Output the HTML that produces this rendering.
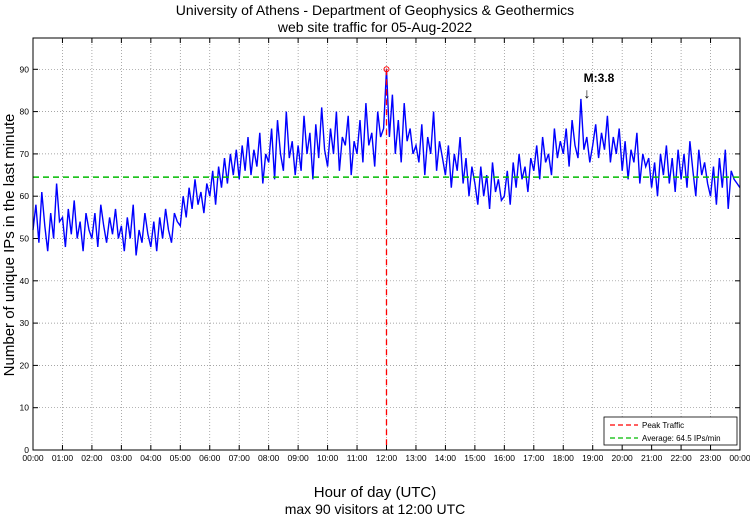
<!DOCTYPE html>
<html><head><meta charset="utf-8"><style>
body{margin:0;background:#fff;}
svg{display:block;font-family:"Liberation Sans",sans-serif;}
</style></head><body>
<svg id="chart" width="750" height="515">
<text x="375" y="15" text-anchor="middle" font-size="14">University of Athens - Department of Geophysics &amp; Geothermics</text>
<text x="375" y="32" text-anchor="middle" font-size="14">web site traffic for 05-Aug-2022</text>
<g id="grid"></g>
<g id="series"></g>
<rect x="33" y="38" width="707" height="412" fill="none" stroke="#000" stroke-width="1"/>
<g id="ticks"></g>
<text x="375" y="497" text-anchor="middle" font-size="15">Hour of day (UTC)</text>
<text x="375" y="514" text-anchor="middle" font-size="14">max 90 visitors at 12:00 UTC</text>
<text transform="translate(14,245) rotate(-90)" text-anchor="middle" font-size="15">Number of unique IPs in the last minute</text>
<text x="599" y="82" text-anchor="middle" font-size="12" font-weight="bold">M:3.8</text>
<text x="587" y="98" text-anchor="middle" font-size="14">↓</text>
<g>
<rect x="604" y="417" width="133" height="28" fill="#fff" stroke="#000" stroke-width="0.8"/>
<line x1="610" y1="425" x2="638" y2="425" stroke="#f00" stroke-width="1.2" stroke-dasharray="5,3"/>
<text x="642" y="428" font-size="8">Peak Traffic</text>
<line x1="610" y1="438" x2="638" y2="438" stroke="#0b0" stroke-width="1.2" stroke-dasharray="5,3"/>
<text x="642" y="441" font-size="8">Average: 64.5 IPs/min</text>
</g>
</svg>
<script>
const hourLabels=["00:00","01:00","02:00","03:00","04:00","05:00","06:00","07:00","08:00","09:00","10:00","11:00","12:00","13:00","14:00","15:00","16:00","17:00","18:00","19:00","20:00","21:00","22:00","23:00","00:00"];
const yTicks=[0,10,20,30,40,50,60,70,80,90];
const visitors=[
52,58,49,61,53,47,56,50,63,54,
55,48,57,51,59,50,54,47,56,52,
50,56,48,58,53,49,55,51,57,50,
53,47,55,50,58,46,52,49,56,51,
48,54,47,55,50,57,52,49,56,54,
53,60,55,62,57,64,58,61,56,63,
60,66,58,67,62,69,63,70,65,71,
64,72,66,74,65,71,67,75,63,70,
68,76,64,78,70,66,80,69,73,65,
72,66,79,70,75,64,77,69,81,71,
67,76,70,80,66,74,72,79,65,73,
70,78,68,82,72,75,67,80,74,76,
90,74,84,70,78,68,82,73,76,70,
72,68,77,65,74,70,80,66,73,69,
65,72,62,70,66,74,63,69,60,67,
63,58,67,60,65,57,68,61,64,59,
60,66,58,68,62,70,64,67,61,69,
66,72,64,74,68,70,65,76,69,73,
70,76,67,78,72,69,83,71,74,68,
72,77,69,75,71,79,68,74,70,76,
66,73,64,71,68,75,63,70,67,69,
62,68,60,70,65,72,63,69,61,71,
64,70,62,73,66,60,71,65,68,63,
60,67,58,69,62,71,57,66,64,63,62];
const average=[64.5];
const peakHour=[12];
const peakValue=[90];

const NS="http://www.w3.org/2000/svg";
const L=33,R=740,T=38,B=450,YMAX=97.4;
const xs=h=>L+(R-L)*h/24;
const ys=v=>B-(B-T)*v/YMAX;
function mk(tag,attrs,parent){const e=document.createElementNS(NS,tag);for(const k in attrs)e.setAttribute(k,attrs[k]);parent.appendChild(e);return e;}
const grid=document.getElementById('grid'),ticks=document.getElementById('ticks'),series=document.getElementById('series');
hourLabels.forEach((lab,i)=>{
  const x=xs(i);
  if(i>0&&i<24){const g=mk('line',{x1:x,x2:x,y1:T,y2:B,stroke:'#888','stroke-width':0.7,'stroke-dasharray':'1,2'},grid);
  
  }
  mk('line',{x1:x,x2:x,y1:B,y2:B-5,stroke:'#000'},ticks);
  mk('line',{x1:x,x2:x,y1:T,y2:T+5,stroke:'#000'},ticks);
  const t=mk('text',{x:x,y:461,'text-anchor':'middle','font-size':8.5},ticks);t.textContent=lab;
  
  
});
yTicks.forEach(v=>{
  const y=ys(v);
  if(v>0){const g=mk('line',{x1:L,x2:R,y1:y,y2:y,stroke:'#888','stroke-width':0.7,'stroke-dasharray':'1,2'},grid);
  
  }
  mk('line',{x1:L,x2:L+5,y1:y,y2:y,stroke:'#000'},ticks);
  mk('line',{x1:R,x2:R-5,y1:y,y2:y,stroke:'#000'},ticks);
  const t=mk('text',{x:L-4,y:y+3,'text-anchor':'end','font-size':8.5},ticks);t.textContent=v;
  
  
});
const n=visitors.length-1;
const pts=visitors.map((v,i)=>xs(24*i/n).toFixed(1)+','+ys(v).toFixed(1)).join(' ');
const pl=mk('polyline',{points:pts,fill:'none',stroke:'#00f','stroke-width':1.4},series);


const av=mk('line',{x1:L,x2:R,y1:ys(average[0]),y2:ys(average[0]),stroke:'#0b0','stroke-width':1.5,'stroke-dasharray':'6,4'},series);


const pk=mk('line',{x1:xs(peakHour[0]),x2:xs(peakHour[0]),y1:ys(peakValue[0]),y2:B,stroke:'#f00','stroke-width':1.3,'stroke-dasharray':'6,4'},series);


const pm=mk('circle',{cx:xs(peakHour[0]),cy:ys(peakValue[0]),r:2.5,fill:'none',stroke:'#f00','stroke-width':1},series);


</script>
</body></html>
